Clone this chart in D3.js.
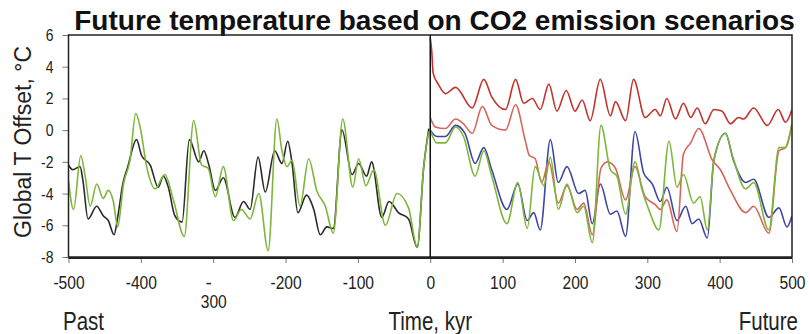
<!DOCTYPE html>
<html>
<head>
<meta charset="utf-8">
<script src="https://cdn.jsdelivr.net/npm/d3@7"></script>
<style>
  body { margin: 0; background: #fff; }
  figure { margin: 0; }
  svg { display: block; }
</style>
</head>
<body>
<figure id="chart"></figure>
<script>
const titleText = 'Future temperature based on CO2 emission scenarios';
const yLabel = 'Global T Offset, °C';
const bottomLabels = ['Past', 'Time, kyr', 'Future'];
const xTicks = [-500, -400, -300, -200, -100, 0, 100, 200, 300, 400, 500];
const yTicks = [-8, -6, -4, -2, 0, 2, 4, 6];

// past records, [kyr, °C]
const pastBlack = [[-500,-2.2],[-494,-2.5],[-484,-2.3],[-480,-3.2],[-473,-5.6],[-461,-4.8],[-452,-5.4],[-445,-5.7],[-437,-6.6],[-432,-5.5],[-425,-3.4],[-418,-2.3],[-406,-0.6],[-399,-1.6],[-387,-2.2],[-376,-3.6],[-369,-2.9],[-362,-3.6],[-353,-5.4],[-343,-5.8],[-333,-0.6],[-320,-2.0],[-313,-1.3],[-306,-2.2],[-297,-3.8],[-286,-3.0],[-270,-5.5],[-258,-4.5],[-249,-5.0],[-238,-1.7],[-228,-3.9],[-215,-1.3],[-205,-2.1],[-197,-0.7],[-191,-2.1],[-183,-5.2],[-171,-4.1],[-161,-5.0],[-152,-6.6],[-143,-6.1],[-134,-6.2],[-122,0.0],[-108,-2.8],[-99,-2.1],[-88,-2.9],[-81,-2.0],[-67,-5.5],[-57,-4.5],[-44,-5.2],[-30,-5.6],[-18,-7.4],[-9,-2.3],[-2,0.1]];
const pastGreen = [[-500,-3.2],[-493,-5.0],[-483,-1.6],[-477,-2.9],[-470,-4.8],[-461,-3.4],[-452,-4.3],[-445,-3.8],[-438,-4.5],[-432,-6.1],[-424,-3.4],[-415,-1.9],[-407,1.05],[-401,0.2],[-392,-2.3],[-380,-3.7],[-367,-2.8],[-355,-4.4],[-340,-6.7],[-327,0.6],[-316,-2.2],[-307,-2.4],[-297,-4.2],[-286,-2.3],[-272,-5.7],[-261,-5.0],[-249,-5.6],[-237,-4.0],[-224,-7.6],[-212,0.7],[-205,-1.3],[-198,-2.3],[-191,-1.9],[-180,-4.8],[-168,-1.8],[-157,-3.8],[-145,-4.8],[-134,-6.5],[-121,0.7],[-107,-3.6],[-99,-1.8],[-89,-3.5],[-78,-2.5],[-62,-6.0],[-46,-4.0],[-30,-4.9],[-18,-7.4],[-9,-2.3],[-2,-0.1]];

// future scenarios, [kyr, °C]
const futureRedHigh = [[0,5.8],[2,5.0],[4,3.6],[11,2.9],[21,2.3],[35,2.7],[58,1.4],[74,3.2],[85,2.1],[104,1.3],[118,3.2],[129,1.7],[141,2.0],[152,1.3],[164,2.9],[175,1.2],[188,2.5],[200,1.2],[210,1.9],[221,0.6],[235,3.2],[249,0.9],[256,1.8],[270,0.6],[281,3.2],[297,0.8],[311,1.3],[318,0.9],[327,2.0],[339,0.7],[350,1.7],[360,0.8],[369,1.4],[380,0.4],[392,1.3],[403,1.2],[415,0.4],[426,0.8],[433,0.7],[447,1.4],[466,0.3],[481,1.3],[491,0.5],[500,1.3]];
const futureRedMid = [[0,0.8],[7,0.2],[21,0.1],[35,0.7],[46,0.4],[58,-0.2],[72,1.5],[85,0.3],[104,0.0],[118,1.6],[131,-0.6],[137,-1.6],[145,-1.8],[154,-3.3],[164,-2.0],[177,-4.6],[189,-3.5],[203,-5.0],[212,-4.6],[224,-6.6],[236,-2.4],[245,-2.0],[256,-2.4],[270,-4.4],[283,-2.3],[297,-4.2],[311,-4.7],[318,-5.0],[327,-4.4],[341,-6.4],[350,-1.5],[360,-0.8],[371,0.1],[390,-1.9],[401,-2.5],[415,-3.8],[436,-5.2],[447,-4.8],[468,-6.5],[482,-1.3],[491,-1.1],[500,0.4]];
const futureBlue = [[0,0.0],[9,-0.4],[21,-0.4],[35,0.3],[48,-0.2],[62,-2.1],[74,-1.1],[85,-2.5],[106,-5.0],[121,-3.4],[134,-5.7],[143,-5.2],[152,-6.3],[166,-0.6],[177,-3.3],[189,-2.3],[205,-4.0],[214,-3.8],[224,-5.9],[235,-3.4],[249,-5.3],[258,-5.1],[270,-6.7],[283,-0.1],[295,-2.7],[307,-3.4],[318,-4.5],[327,-3.6],[341,-5.7],[353,-4.8],[362,-5.9],[371,-5.6],[383,-6.8],[392,-1.9],[408,-0.2],[419,-1.9],[436,-3.3],[447,-3.1],[468,-5.5],[482,-4.9],[493,-6.1],[500,-5.4]];
const futureGreen = [[0,0.0],[9,-0.8],[21,-0.8],[35,0.2],[46,-0.4],[62,-2.9],[74,-1.3],[85,-2.9],[106,-5.9],[121,-3.3],[134,-6.2],[145,-2.3],[157,-3.5],[166,-1.7],[177,-5.0],[189,-3.4],[203,-5.2],[212,-4.8],[224,-7.1],[236,0.3],[249,-2.5],[258,-2.9],[270,-5.3],[283,-2.0],[293,-3.8],[302,-5.0],[316,-6.3],[330,-0.7],[341,-3.6],[350,-2.8],[364,-4.6],[373,-4.2],[383,-6.3],[392,-1.9],[408,-0.2],[417,-1.5],[436,-3.7],[447,-3.3],[468,-6.3],[482,-1.1],[491,-1.1],[500,0.4]];

const width = 810;
const height = 334;
const plot = { left: 68.5, right: 792, top: 35, bottom: 257 };
const sans = "'Liberation Sans', Arial, Helvetica, sans-serif";

// no narrow face is installed, so squeeze the regular one like Helvetica Narrow
function condense(sel, k) {
  sel.each(function () {
    const w = this.getComputedTextLength();
    d3.select(this).attr('textLength', w * k).attr('lengthAdjust', 'spacingAndGlyphs');
  });
}

const svg = d3.select('figure#chart')
  .append('svg')
  .attr('width', width)
  .attr('height', height);

const x = d3.scaleLinear().domain([-500, 500]).range([plot.left, plot.right]);
const y = d3.scaleLinear().domain([-8, 6]).range([plot.bottom, plot.top]);

svg.append('defs').append('clipPath').attr('id', 'plot-clip')
  .append('rect')
  .attr('x', plot.left).attr('y', plot.top)
  .attr('width', plot.right - plot.left).attr('height', plot.bottom - plot.top);

// title
svg.append('text')
  .attr('x', (72 + 797) / 2)
  .attr('y', 29.5)
  .attr('text-anchor', 'middle')
  .style('font-family', sans)
  .style('font-weight', 'bold')
  .style('font-size', '28px')
  .attr('fill', '#111')
  .text(titleText);

// y axis
const yAxis = svg.append('g')
  .attr('transform', 'translate(' + plot.left + ',0)')
  .call(d3.axisLeft(y).tickValues(yTicks).tickSize(6).tickPadding(9).tickFormat((d) => String(d)));
yAxis.select('.domain').remove();
yAxis.selectAll('.tick line').attr('stroke', '#777');
yAxis.selectAll('.tick text')
  .style('font-family', sans)
  .style('font-size', '17px')
  .attr('fill', '#222')
  .call(condense, 0.82);

// x axis
const xAxis = svg.append('g')
  .attr('transform', 'translate(0,' + (plot.bottom + 1) + ')')
  .call(d3.axisBottom(x).tickValues(xTicks).tickSize(5).tickPadding(13).tickFormat((d) => String(d)));
xAxis.select('.domain').remove();
xAxis.selectAll('.tick line').attr('stroke', '#777');
const xText = xAxis.selectAll('.tick text')
  .style('font-family', sans)
  .style('font-size', '19px')
  .attr('fill', '#222');
xText.filter((d) => d !== -300).call(condense, 0.82);
// the -300 label is wrapped onto two lines in the original
xText.filter((d) => d === -300).each(function () {
  const t = d3.select(this).text(null);
  t.append('tspan').attr('x', -5).text('-');
  t.append('tspan').attr('x', 0).attr('dy', '1.0em').text('300').call(condense, 0.82);
});

// axis titles
svg.append('text')
  .attr('transform', 'translate(31,' + 142 + ')rotate(-90)')
  .attr('text-anchor', 'middle')
  .style('font-family', sans)
  .style('font-size', '23px')
  .attr('fill', '#222')
  .text(yLabel);

const bottomG = svg.append('g')
  .style('font-family', sans)
  .style('font-size', '25px')
  .attr('fill', '#222');
bottomG.append('text').attr('x', 63).attr('y', 330).attr('text-anchor', 'start').text(bottomLabels[0]);
bottomG.append('text').attr('x', x(0)).attr('y', 330).attr('text-anchor', 'middle').text(bottomLabels[1]);
const futureText = bottomG.append('text').attr('y', 330).attr('text-anchor', 'start').text(bottomLabels[2]);
// right-align "Future" by hand (measured before squeezing), kept clear of the edge
futureText.attr('x', 798 - futureText.node().getComputedTextLength() * 0.82);
bottomG.selectAll('text').call(condense, 0.82);

// series
const line = d3.line()
  .x((d) => x(d[0]))
  .y((d) => y(d[1]))
  .curve(d3.curveMonotoneX);

const series = [
  { data: pastBlack, color: '#2b2b2b' },
  { data: pastGreen, color: '#7db63a' },
  { data: futureBlue, color: '#3d46a2' },
  { data: futureRedMid, color: '#d8655a' },
  { data: futureGreen, color: '#7db63a' },
  { data: futureRedHigh, color: '#c4322c' },
];

svg.append('g')
  .attr('clip-path', 'url(#plot-clip)')
  .selectAll('path')
  .data(series)
  .enter()
  .append('path')
  .attr('d', (s) => line(s.data))
  .attr('fill', 'none')
  .attr('stroke', (s) => s.color)
  .attr('stroke-width', 1.6)
  .attr('stroke-linejoin', 'round');

// frame and the zero line
svg.append('rect')
  .attr('x', plot.left).attr('y', plot.top)
  .attr('width', plot.right - plot.left).attr('height', plot.bottom - plot.top)
  .attr('fill', 'none')
  .attr('stroke', '#222')
  .attr('stroke-width', 1.5);
svg.append('line')
  .attr('x1', plot.left).attr('x2', plot.right)
  .attr('y1', plot.bottom + 1).attr('y2', plot.bottom + 1)
  .attr('stroke', '#222')
  .attr('stroke-width', 2);
svg.append('line')
  .attr('x1', x(0)).attr('x2', x(0))
  .attr('y1', plot.top).attr('y2', plot.bottom)
  .attr('stroke', '#111')
  .attr('stroke-width', 1.5);
</script>
</body>
</html>
